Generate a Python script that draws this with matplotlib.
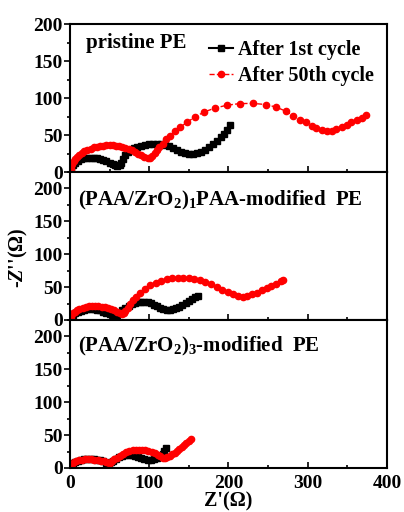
import matplotlib
matplotlib.use("Agg")
import matplotlib.pyplot as plt
from matplotlib.ticker import MultipleLocator

plt.rcParams["font.family"] = ["Liberation Serif", "DejaVu Serif"]
plt.rcParams["font.weight"] = "bold"
plt.rcParams["mathtext.fontset"] = "custom"
plt.rcParams["mathtext.rm"] = "Liberation Serif:bold"
plt.rcParams["mathtext.bf"] = "Liberation Serif:bold"
plt.rcParams["mathtext.it"] = "Liberation Serif:bold:italic"

# Nyquist data, Z' (ohm) and -Z'' (ohm)
pe_1st_x = [0, 2, 4, 7, 10, 14, 18, 22, 26, 30, 34, 38, 42, 46, 50, 54, 57, 60, 63, 65, 67, 70, 73, 77,
            81, 85, 90, 95, 100, 105, 110, 115, 120, 125, 130, 135, 140, 145, 150, 155, 160, 165, 170,
            175, 180, 185, 190, 194, 198, 202]
pe_1st_y = [0, 5, 9, 12, 15, 17, 18.5, 19.3, 19.5, 19.3, 18.7, 17.8, 16.5, 14.8, 12.8, 10.9, 9.5, 8.6,
            9.5, 12, 17, 23, 27, 30, 32.5, 34, 35.5, 36.5, 37.5, 38, 38.2, 37.8, 36.8, 34.8, 32.2, 29.6,
            27.3, 25.6, 24.5, 24.5, 25.5, 27.3, 30, 33.5, 37.5, 42, 47, 52, 57, 63]
pe_50th_x = [0, 1, 2, 3, 5, 7, 9, 12, 15, 18, 22, 26, 30, 34, 38, 42, 46, 50, 54, 58, 62, 66, 70, 74,
             78, 82, 86, 90, 94, 98, 101, 104, 107, 110, 113, 117, 121, 126, 132, 139, 148, 158, 169,
             183, 198, 214, 231, 247, 260, 272, 282, 290, 298, 305, 311, 318, 324, 330, 336, 343, 349,
             355, 362, 368, 374]
pe_50th_y = [0, 4, 8, 11, 14.5, 17.5, 20, 23, 25.5, 27.8, 30, 31.8, 33.2, 34.3, 35.2, 35.8, 36.2, 36.3,
             36.2, 35.8, 35.1, 34.1, 32.8, 31.2, 29.3, 27.2, 25, 22.8, 20.8, 19.2, 19.5, 22, 25.5, 29.5,
             33.5, 38.5, 44, 49, 55, 60.5, 67.5, 74.5, 81, 86.5, 90.3, 92.5, 92.8, 91.2, 87.8, 82.4, 76,
             71, 67, 62.5, 59, 56.5, 55.4, 55.6, 57.5, 60.5, 64, 67.5, 70.7, 72.8, 77]

m1_1st_x = [0, 2, 4, 7, 10, 14, 18, 22, 26, 30, 34, 38, 42, 46, 50, 54, 57, 60, 63, 66, 70, 74, 78, 82,
            86, 90, 94, 98, 102, 106, 110, 114, 118, 122, 126, 130, 134, 138, 142, 146, 150, 154, 158, 161]
m1_1st_y = [0, 4, 7, 10, 12.5, 14.3, 15.5, 16.2, 16.5, 16.3, 15.6, 14.5, 12.8, 10.8, 8.5, 6.8, 6.5, 8,
            11, 14.5, 18.5, 22, 24.5, 26.5, 27.6, 28, 27.8, 27, 25.5, 23.3, 20.8, 18.3, 16.3, 15.3, 15.5,
            16.5, 18.2, 20.3, 22.8, 25.5, 28.5, 31.5, 34.3, 36]
m1_50th_x = [0, 1, 2, 4, 6, 9, 12, 16, 20, 24, 28, 32, 36, 40, 44, 48, 52, 56, 60, 63, 66, 68, 70, 73,
             76, 80, 84, 89, 95, 101, 108, 115, 122, 129, 136, 143, 150, 157, 164, 171, 178, 185, 192,
             199, 206, 212, 218, 224, 230, 236, 242, 248, 254, 260, 266, 269]
m1_50th_y = [0, 4, 7, 10, 12.5, 15, 17, 18.8, 20, 20.8, 21.2, 21.3, 21.1, 20.5, 19.6, 18.3, 16.6, 14.6,
             12.3, 10, 8.5, 10.5, 14, 19, 24.5, 30, 35.5, 41.5, 47.5, 52.5, 56.5, 59.5, 61.8, 63.3, 64,
             64.2, 63.8, 62.5, 60.5, 57.5, 54, 50, 46, 42.3, 39, 36.5, 35.3, 36.3, 38.8, 41.8, 45, 48.5,
             52, 55.5, 59, 61]

m3_1st_x = [0, 2, 4, 7, 10, 14, 18, 22, 26, 30, 34, 38, 42, 46, 49, 52, 55, 58, 62, 66, 70, 74, 78, 82,
            86, 90, 94, 98, 102, 106, 110, 114, 117, 119, 121]
m3_1st_y = [0, 4, 7, 9.5, 11.3, 12.5, 13.3, 13.6, 13.6, 13.3, 12.6, 11.5, 10, 8.3, 7.3, 8.5, 11, 13.5,
            16, 18, 19.3, 20, 19.8, 18.5, 16.5, 14.5, 13, 12.5, 12.8, 13.8, 15.5, 18.5, 22, 26, 30]
m3_50th_x = [0, 1, 3, 5, 8, 11, 15, 19, 23, 27, 31, 35, 39, 43, 46, 49, 51, 53, 56, 59, 63, 67, 71, 75,
             79, 83, 87, 91, 95, 99, 103, 107, 111, 114, 117, 120, 123, 126, 129, 132, 135, 138, 141,
             144, 147, 150, 153]
m3_50th_y = [0, 3, 6, 8.5, 10.5, 11.8, 12.6, 13, 13.1, 13, 12.6, 12, 11.2, 10, 8.8, 7.5, 8, 10, 13,
             15.5, 18.5, 21.5, 24, 25.8, 27, 27.6, 27.8, 27.6, 27, 26, 24.5, 22.5, 20, 17.5, 15.5, 15,
             16, 18, 20.5, 23.5, 26.5, 29.5, 32.5, 35.5, 38.5, 41.5, 44]

panels = [
    ("pristine PE", pe_1st_x, pe_1st_y, pe_50th_x, pe_50th_y, 200, 0.05, 0.87),
    (r"(PAA/ZrO$_{2}$)$_{1}$PAA-modified  PE", m1_1st_x, m1_1st_y, m1_50th_x, m1_50th_y, 225, 0.025, 0.81),
    (r"(PAA/ZrO$_{2}$)$_{3}$-modified  PE", m3_1st_x, m3_1st_y, m3_50th_x, m3_50th_y, 225, 0.025, 0.82),
]

fig = plt.figure(figsize=(4.04, 5.12), dpi=100)
fig.subplots_adjust(left=0.173, right=0.958, top=0.953, bottom=0.086, hspace=0)
axes = fig.subplots(3, 1, sharex=True)

for ax, (label, bx, by, rx, ry, ytop, lx, ly) in zip(axes, panels):
    ax.plot(bx, by, color="black", marker="s", markersize=4.8, linewidth=1.5,
            label="After 1st cycle")
    ax.plot(rx, ry, color="red", marker="o", markersize=4.5, linewidth=1.0,
            linestyle="--", label="After 50th cycle")
    ax.set_xlim(0, 400)
    ax.set_ylim(0, ytop)
    ax.yaxis.set_major_locator(MultipleLocator(50))
    ax.yaxis.set_minor_locator(MultipleLocator(25))
    ax.xaxis.set_major_locator(MultipleLocator(100))
    ax.xaxis.set_minor_locator(MultipleLocator(50))
    ax.tick_params(axis="y", which="both", direction="out", labelsize=14, width=1.2, pad=1)
    ax.tick_params(axis="y", which="major", length=4)
    ax.tick_params(axis="y", which="minor", length=2)
    ax.tick_params(axis="x", which="both", direction="in", labelsize=14, width=1.2, pad=5)
    ax.tick_params(axis="x", which="major", length=4)
    ax.tick_params(axis="x", which="minor", length=2)
    for sp in ax.spines.values():
        sp.set_linewidth(1.5)
    ax.text(lx, ly, label, transform=ax.transAxes,
            fontsize=15, fontweight="bold", va="center", ha="left")

axes[0].legend(loc="upper right", bbox_to_anchor=(1.01, 1.0), frameon=False, fontsize=14.5,
               handlelength=1.2, handletextpad=0.25, labelspacing=0.3, borderaxespad=0.4)
axes[1].set_ylabel(r"-$Z$''(Ω)", fontsize=14.5, fontweight="bold")
axes[1].yaxis.set_label_coords(-0.125, 0.42)
fig.text(228 / 404, 1 - 501 / 512, "Z'(Ω)", fontsize=14.5, fontweight="bold",
         ha="center", va="center")

fig.savefig("out.png", dpi=100)
